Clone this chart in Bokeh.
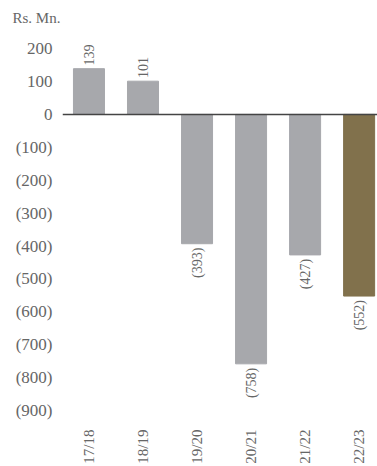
from math import pi
from bokeh.plotting import figure
from bokeh.models import ColumnDataSource, FixedTicker, Span
from bokeh.core.properties import value
from bokeh.embed import file_html
from bokeh.resources import INLINE

years = ["17/18", "18/19", "19/20", "20/21", "21/22", "22/23"]
values = [139, 101, -393, -758, -427, -552]
colors = ["#A7A8AC", "#A7A8AC", "#A7A8AC", "#A7A8AC", "#A7A8AC", "#81714C"]
y_ticks = [200, 100, 0, -100, -200, -300, -400, -500, -600, -700, -800, -900]

FONT = "Liberation Serif"

xs = list(range(len(years)))
labels = [str(v) if v >= 0 else "(%d)" % (-v) for v in values]
aligns = ["left" if v >= 0 else "right" for v in values]
ly = [v + 10 if v >= 0 else v - 12 for v in values]

src = ColumnDataSource(dict(x=xs, top=values, color=colors, label=labels,
                            align=aligns, ly=ly))

p = figure(width=377, height=466, output_backend="svg", toolbar_location=None,
           x_range=(-0.49, 5.34), y_range=(-915, 255),
           min_border_left=62, min_border_right=0, min_border_top=30,
           min_border_bottom=46, title="Rs. Mn.")
p.outline_line_color = None
p.background_fill_color = "white"
p.border_fill_color = "white"
p.xgrid.grid_line_color = None
p.ygrid.grid_line_color = None

p.title.text_font = FONT
p.title.text_font_style = "normal"
p.title.text_font_size = "15px"
p.title.text_color = "#666666"
p.title.offset = -50

p.vbar(x="x", top="top", bottom=0, width=0.574, color="color", source=src)
p.add_layout(Span(location=0, dimension="width", line_color="#444444", line_width=1.5))

p.text(x="x", y="ly", text="label", angle=pi / 2, text_align="align",
       text_baseline="middle", text_font=value(FONT), text_font_size="14px",
       text_color="#666666", source=src)

p.yaxis.ticker = FixedTicker(ticks=y_ticks)
p.yaxis.major_label_overrides = {t: (str(t) if t >= 0 else "(%d)" % (-t)) for t in y_ticks}
p.yaxis.axis_line_color = None
p.yaxis.major_tick_line_color = None
p.yaxis.minor_tick_line_color = None
p.yaxis.major_label_text_font = FONT
p.yaxis.major_label_text_font_size = "17px"
p.yaxis.major_label_text_color = "#666666"
p.yaxis.major_label_standoff = 4

p.xaxis.ticker = FixedTicker(ticks=xs)
p.xaxis.major_label_overrides = {i: y for i, y in zip(xs, years)}
p.xaxis.major_label_orientation = pi / 2
p.xaxis.axis_line_color = None
p.xaxis.major_tick_line_color = None
p.xaxis.minor_tick_line_color = None
p.xaxis.major_label_text_font = FONT
p.xaxis.major_label_text_font_size = "15px"
p.xaxis.major_label_text_color = "#666666"
p.xaxis.major_label_standoff = 8

open("out.html", "w").write(file_html(p, INLINE))
